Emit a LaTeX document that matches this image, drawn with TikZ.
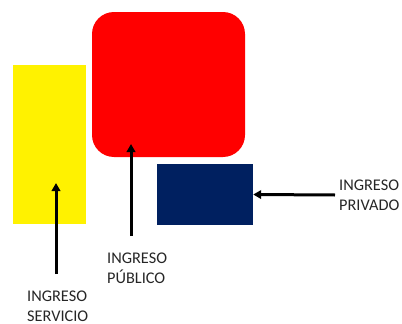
\documentclass[tikz,border=0pt]{standalone}
\usepackage{fontspec}
\setmainfont{Carlito}
\usetikzlibrary{arrows.meta}
\definecolor{navy}{HTML}{002060}
\definecolor{txt}{HTML}{262626}
\begin{document}
\begin{tikzpicture}[x=1pt,y=-1pt,
  lbl/.style={anchor=base west,align=left,inner sep=0pt,text=txt,
    font=\fontsize{16.3}{20}\selectfont},
  arr/.style={line width=3pt,-{Triangle[length=8pt,width=8.5pt]}}]
\useasboundingbox (0,0) rectangle (402,324);
\fill[yellow] (13,65) rectangle (86,224);
\node[fill=red,rounded corners=22pt,minimum width=153pt,minimum height=145pt,inner sep=0pt] (pub) at (168.5,84.5) {};
\node[fill=navy,minimum width=96pt,minimum height=61pt,inner sep=0pt] (priv) at (205,194.5) {};
\node[lbl,text depth=0pt] (ts) at (27,321) {INGRESO\\SERVICIO};
\node[lbl] (tp) at (107,283) {INGRESO\\PÚBLICO};
\node[lbl] (tv) at (339,210) {INGRESO\\PRIVADO};
\coordinate (s0) at (56,274);
\coordinate (s1) at (56,183);
\coordinate (p0) at (131,236);
\coordinate (p1) at (131,144);
\coordinate (v0) at (335,195);
\draw[arr] (s0) -- (s1);
\draw[arr] (p0) -- (p1);
\draw[arr] (v0) -- (priv.east);
\end{tikzpicture}
\end{document}
